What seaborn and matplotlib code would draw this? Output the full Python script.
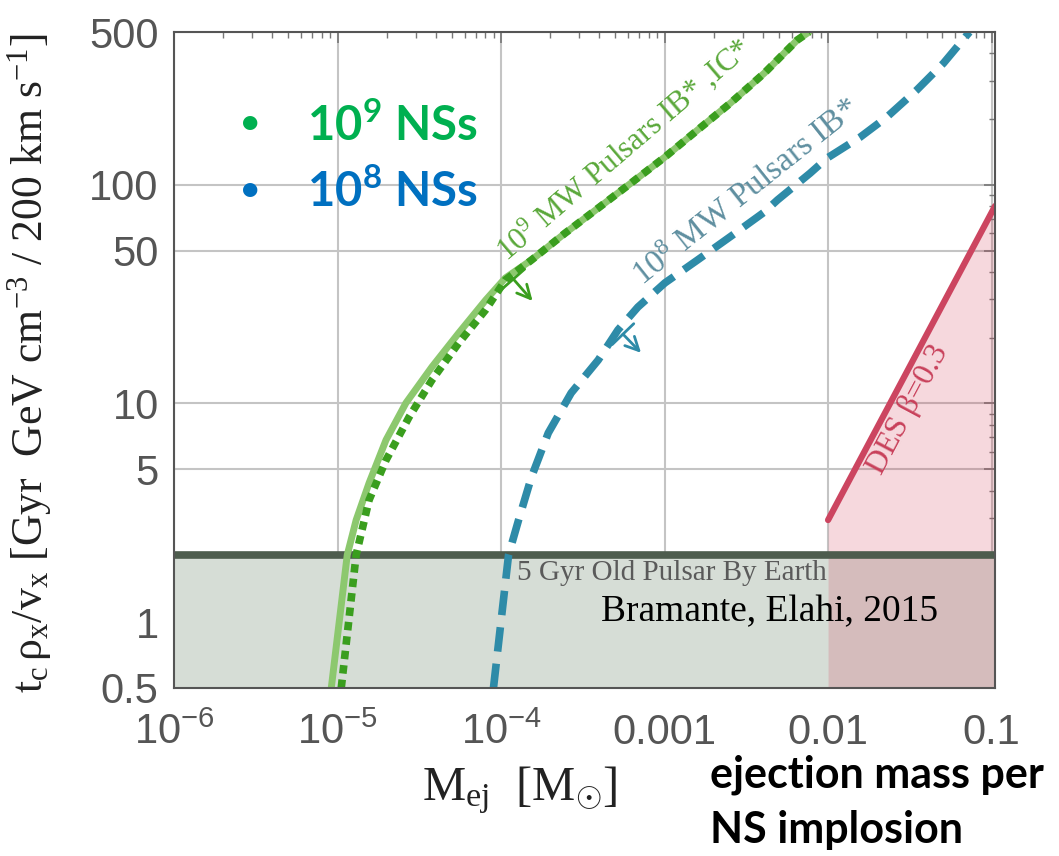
import numpy as np
import pandas as pd
import matplotlib
matplotlib.use("Agg")
import matplotlib.pyplot as plt
import seaborn as sns

sns.set_style("white")
plt.rcParams['font.family'] = ['Liberation Serif', 'DejaVu Serif']
plt.rcParams['mathtext.fontset'] = 'custom'
plt.rcParams['mathtext.rm'] = 'Liberation Serif'
plt.rcParams['mathtext.it'] = 'Liberation Serif:italic'
plt.rcParams['mathtext.sf'] = 'Liberation Sans'
plt.rcParams['mathtext.bf'] = 'Lato:bold'

# curves (M_ej in solar masses vs t_c rho_x/v_x)
m9_solid = [9.16e-6, 1.147e-5, 1.30e-5, 1.56e-5, 1.98e-5, 2.62e-5, 3.78e-5, 5.51e-5, 8.05e-5, 1.063e-4,
            1.535e-4, 2.47e-4, 3.93e-4, 6.24e-4, 1.005e-3, 1.59e-3, 2.53e-3, 4.07e-3, 6.47e-3, 7.65e-3]
t9_solid = [0.5, 2.03, 2.93, 4.33, 6.81, 10.05, 14.7, 21.0, 29.7, 37.5,
            45.3, 60.2, 78.3, 101.9, 134, 178, 236.6, 324, 459, 500]
m9_dot = [1.054e-5, 1.30e-5, 1.56e-5, 1.98e-5, 2.74e-5, 3.78e-5, 5.51e-5, 8.05e-5, 1.063e-4,
          1.535e-4, 2.47e-4, 3.93e-4, 6.24e-4, 1.005e-3, 1.59e-3, 2.53e-3, 4.07e-3, 6.47e-3, 7.65e-3]
t9_dot = [0.5, 2.03, 3.62, 5.51, 8.67, 12.8, 18.9, 26.8, 36.7,
          45.3, 60.2, 78.3, 101.9, 134, 178, 236.6, 324, 459, 500]
m8_dash = [8.99e-5, 1.112e-4, 1.28e-4, 1.535e-4, 1.945e-4, 2.685e-4, 3.93e-4, 5.19e-4, 6.87e-4, 1.005e-3,
           1.59e-3, 2.53e-3, 4.07e-3, 4.9e-3, 7.76e-3, 9.86e-3, 1.567e-2, 2.285e-2, 3.48e-2, 5.08e-2, 7.33e-2]
t8_dash = [0.5, 2.03, 2.93, 4.61, 7.33, 11.17, 15.8, 21.7, 27.6, 35.6,
           45.3, 58, 75, 85.2, 113, 132.5, 165, 204, 271, 360, 500]
des_m = [0.01, 0.105]
des_t = [2.93, 80]
pulsar_age = 2.03

xticks = [1e-6, 1e-5, 1e-4, 1e-3, 1e-2, 1e-1]
xticklabels = [r'$\mathsf{10^{-6}}$', r'$\mathsf{10^{-5}}$', r'$\mathsf{10^{-4}}$', '0.001', '0.01', '0.1']
yticks = [0.5, 1, 5, 10, 50, 100, 500]
yticklabels = ['0.5', '1', '5', '10', '50', '100', '500']

XMIN, XMAX = 1e-6, 0.105
YMIN, YMAX = 0.5, 500

fig = plt.figure(figsize=(10.59, 8.56), dpi=100)
ax = fig.add_axes([0.1643, 0.1963, 0.7753, 0.7663])
ax.set_xscale('log')
ax.set_yscale('log')

# shaded regions
ax.fill_between([XMIN, XMAX], YMIN, pulsar_age, color='#d6ddd6', zorder=1)
ax.fill_between(des_m, YMIN, des_t, color='#d23c55', alpha=0.2, lw=0, zorder=2)
ax.axhline(pulsar_age, color='#4d5c4d', lw=5.5, zorder=3)

sns.lineplot(x=m9_solid, y=t9_solid, ax=ax, color='#8cc86e', lw=5, sort=False, zorder=4)
sns.lineplot(x=m9_dot, y=t9_dot, ax=ax, color='#3a9e1e', lw=5.5, sort=False,
             linestyle=(0, (1.1, 0.8)), zorder=5)
sns.lineplot(x=m8_dash, y=t8_dash, ax=ax, color='#2e8ba8', lw=5.5, sort=False,
             linestyle=(0, (3.2, 1.6)), zorder=5)
sns.lineplot(x=des_m, y=des_t, ax=ax, color='#cc4560', lw=4.5, sort=False, zorder=5)

# little bound arrows
ax.annotate('', xy=(1.60e-4, 28.8), xytext=(1.159e-4, 37.9),
            arrowprops=dict(arrowstyle=']->, widthA=0.45, lengthA=0',
                            color='#3a9e1e', lw=2, mutation_scale=24), zorder=6)
ax.annotate('', xy=(7.38e-4, 16.7), xytext=(5.42e-4, 21.2),
            arrowprops=dict(arrowstyle=']->, widthA=0.45, lengthA=0',
                            color='#2e8ba8', lw=2, mutation_scale=24), zorder=6)

ax.text(5.6e-4, 146, r'$\mathrm{10^9}$ MW Pulsars IB* ,IC*', color='#5aa83a', fontsize=22.5,
        rotation=40.5, rotation_mode='anchor', ha='center', va='center', zorder=7)
ax.text(3.17e-3, 92, r'$\mathrm{10^8}$ MW Pulsars IB*', color='#5f8fa0', fontsize=24,
        rotation=38.5, rotation_mode='anchor', ha='center', va='center', zorder=7)
ax.text(0.0308, 9.3, r'DES $\mathrm{\beta}$=0.3', color='#c8405a', fontsize=23,
        rotation=62, rotation_mode='anchor', ha='center', va='center', zorder=7)
ax.text(1.25e-4, 1.68, '5 Gyr Old Pulsar By Earth', color='#5a5a5a', fontsize=21,
        ha='left', va='center', zorder=7)
ax.text(4.07e-4, 1.11, 'Bramante, Elahi, 2015', color='black', fontsize=27,
        ha='left', va='center', zorder=7)

ax.set_xlim(XMIN, XMAX)
ax.set_ylim(YMIN, YMAX)
ax.set_xticks(xticks)
ax.set_xticklabels(xticklabels)
ax.set_yticks(yticks)
ax.set_yticklabels(yticklabels)
ax.xaxis.set_minor_locator(matplotlib.ticker.LogLocator(base=10, subs=np.arange(2, 10)))
ax.yaxis.set_minor_locator(matplotlib.ticker.LogLocator(base=10, subs=np.arange(2, 10)))
ax.xaxis.set_minor_formatter(matplotlib.ticker.NullFormatter())
ax.yaxis.set_minor_formatter(matplotlib.ticker.NullFormatter())
for lab in ax.get_xticklabels() + ax.get_yticklabels():
    lab.set_family(['Liberation Sans', 'DejaVu Sans'])
    lab.set_fontsize(30)
    lab.set_color('#555555')
ax.tick_params(which='both', direction='in', top=True, right=True, color='#777777')
ax.tick_params(which='major', length=8, width=1.2)
ax.tick_params(which='minor', length=4, width=1)
ax.tick_params(axis='x', which='major', pad=18)
ax.tick_params(axis='y', which='major', pad=11)
ax.grid(True, which='major', color='#c4c4c4', lw=1.5, zorder=0)
ax.set_axisbelow(True)
for sp in ax.spines.values():
    sp.set_color('#555555')
    sp.set_linewidth(1.5)
    sp.set_zorder(8)

fig.text(30 / 1059, 1 - 363 / 856,
         r'$\mathrm{t_c\,\rho_x/v_x}$ [Gyr  GeV cm$^{-3}$ / 200 km s$^{-1}$]',
         rotation=90, ha='center', va='center', fontsize=31.5, color='#222222')
fig.text(520 / 1059, 1 - 790 / 856, r'$\mathrm{M_{ej}}$  [M$_{\odot}$]',
         ha='center', va='center', fontsize=35, color='#222222')
fig.text(710 / 1059, 1 - 775 / 856, 'ejection mass per', family=['Lato', 'DejaVu Sans'],
         weight='bold', fontsize=31, ha='left', va='center', color='black')
fig.text(710 / 1059, 1 - 830 / 856, 'NS implosion', family=['Lato', 'DejaVu Sans'],
         weight='bold', fontsize=31, ha='left', va='center', color='black')

# legend-like annotations
fig.text(250 / 1059, 1 - 123 / 856, '\u2022', family=['Lato', 'DejaVu Sans'], fontsize=28,
         color='#00b050', ha='center', va='center')
fig.text(250 / 1059, 1 - 190 / 856, '\u2022', family=['Lato', 'DejaVu Sans'], fontsize=28,
         color='#0070c0', ha='center', va='center')
fig.text(307 / 1059, 1 - 125 / 856, r'$\mathbf{10^9}$ NSs', family=['Lato', 'DejaVu Sans'],
         weight='bold', fontsize=34, color='#00b050', ha='left', va='center')
fig.text(307 / 1059, 1 - 191 / 856, r'$\mathbf{10^8}$ NSs', family=['Lato', 'DejaVu Sans'],
         weight='bold', fontsize=34, color='#0070c0', ha='left', va='center')

fig.savefig('out.png', dpi=100)
